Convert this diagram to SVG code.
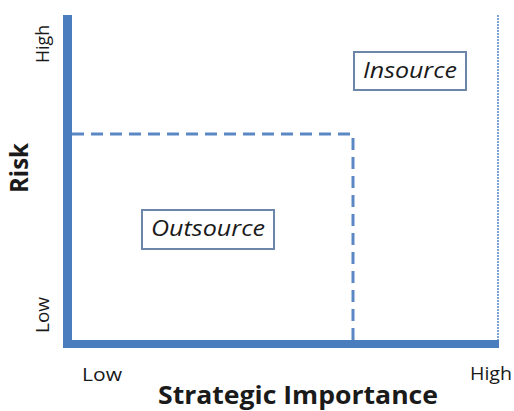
<svg xmlns="http://www.w3.org/2000/svg" width="514" height="411" viewBox="0 0 514 411">
  <style>
    .lbl { font-family: "Open Sans", "Liberation Sans", sans-serif; fill: #1a1a1a; }
    .tick { font-size: 19px; }
    .title { font-size: 25px; font-weight: bold; }
    .box { fill: #ffffff; stroke: #6b86a8; stroke-width: 2; }
    .boxtext { font-family: "Open Sans", "Liberation Sans", sans-serif; font-size: 21px; font-style: italic; fill: #1a1a1a; }
  </style>
  <rect width="514" height="411" fill="#ffffff"/>
  <g id="connectors">
    <!-- quadrant divider -->
    <path d="M72 134 H353 V340" fill="none" stroke="#5b87c4" stroke-width="3" stroke-dasharray="12 7"/>
    <!-- right boundary -->
    <line x1="498" y1="15" x2="498" y2="340" stroke="#7fa2d4" stroke-width="2" stroke-dasharray="2 1"/>
    <!-- axes -->
    <line x1="67.5" y1="15" x2="67.5" y2="344" stroke="#4a7dbd" stroke-width="9"/>
    <line x1="63" y1="344" x2="499" y2="344" stroke="#4a7dbd" stroke-width="8"/>
  </g>
  <g id="insource">
    <rect class="box" x="354" y="52" width="112" height="38"/>
    <text class="boxtext" x="410" y="78" text-anchor="middle" textLength="94" lengthAdjust="spacingAndGlyphs">Insource</text>
  </g>
  <g id="outsource">
    <rect class="box" x="142" y="210" width="132" height="39"/>
    <text class="boxtext" x="208" y="236" text-anchor="middle" textLength="114" lengthAdjust="spacingAndGlyphs">Outsource</text>
  </g>
  <g id="axis-labels">
    <text class="lbl tick" transform="translate(49 44) rotate(-90)" text-anchor="middle" textLength="38" lengthAdjust="spacingAndGlyphs">High</text>
    <text class="lbl tick" transform="translate(49 315) rotate(-90)" text-anchor="middle" textLength="36" lengthAdjust="spacingAndGlyphs">Low</text>
    <text class="lbl title" transform="translate(28 168) rotate(-90)" text-anchor="middle" textLength="50" lengthAdjust="spacingAndGlyphs">Risk</text>
    <text class="lbl tick" x="102" y="381" text-anchor="middle" textLength="40" lengthAdjust="spacingAndGlyphs">Low</text>
    <text class="lbl tick" x="491" y="380" text-anchor="middle" textLength="42" lengthAdjust="spacingAndGlyphs">High</text>
    <text class="lbl title" x="298" y="404" text-anchor="middle" textLength="280" lengthAdjust="spacingAndGlyphs">Strategic Importance</text>
  </g>
</svg>
